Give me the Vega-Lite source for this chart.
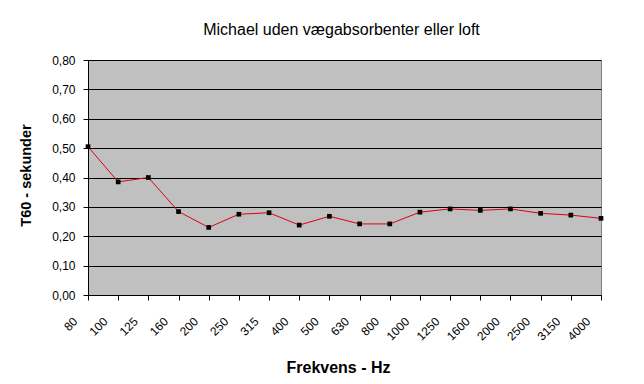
{
  "$schema": "https://vega.github.io/schema/vega-lite/v6.json",
  "autosize": {"type": "none"},
  "padding": {"left": 88, "top": 60, "right": 43, "bottom": 89},
  "width": 513,
  "height": 235,
  "background": "white",
  "title": {
    "text": "Michael uden vægabsorbenter eller loft",
    "font": "Liberation Sans",
    "fontSize": 16,
    "fontWeight": "normal",
    "color": "black",
    "anchor": "middle",
    "dx": -3,
    "offset": 16
  },
  "config": {
    "view": {"fill": "#C0C0C0", "stroke": "#808080", "strokeWidth": 1},
    "axis": {"labelFont": "Liberation Sans", "titleFont": "Liberation Sans", "labelColor": "black", "titleColor": "black", "domainColor": "black", "tickColor": "black"}
  },
  "data": {
    "values": [
      {"f": "80", "t": 0.505},
      {"f": "100", "t": 0.385},
      {"f": "125", "t": 0.40},
      {"f": "160", "t": 0.284},
      {"f": "200", "t": 0.23},
      {"f": "250", "t": 0.275},
      {"f": "315", "t": 0.28},
      {"f": "400", "t": 0.238},
      {"f": "500", "t": 0.268},
      {"f": "630", "t": 0.242},
      {"f": "800", "t": 0.242},
      {"f": "1000", "t": 0.282},
      {"f": "1250", "t": 0.293},
      {"f": "1600", "t": 0.288},
      {"f": "2000", "t": 0.293},
      {"f": "2500", "t": 0.278},
      {"f": "3150", "t": 0.272},
      {"f": "4000", "t": 0.261}
    ]
  },
  "encoding": {
    "x": {
      "field": "f", "type": "ordinal", "sort": null,
      "scale": {"type": "point", "padding": 0},
      "axis": {
        "title": "Frekvens - Hz", "titleFontSize": 16, "titleFontWeight": "bold",
        "titleX": 250, "titleY": 64, "titleAnchor": "middle", "titleAlign": "center",
        "labelAngle": -45, "labelAlign": "right", "labelBaseline": "middle",
        "labelFontSize": 12, "labelPadding": 19, "labelOffset": -13, "tickSize": 5, "grid": false,
        "domainWidth": 1
      }
    },
    "y": {
      "field": "t", "type": "quantitative",
      "scale": {"domain": [0, 0.8], "nice": false},
      "axis": {
        "title": "T60 - sekunder", "titleFontSize": 14.5, "titleFontWeight": "bold",
        "titleX": -55, "titleY": 115, "titleAnchor": "middle",
        "values": [0, 0.1, 0.2, 0.3, 0.4, 0.5, 0.6, 0.7, 0.8],
        "labelExpr": "replace(format(datum.value, '.2f'), '.', ',')",
        "labelFontSize": 12, "labelPadding": 8, "tickSize": 5,
        "grid": true, "gridColor": "black", "gridOpacity": 1, "gridWidth": 1
      }
    }
  },
  "layer": [
    {"mark": {"type": "line", "color": "#E00010", "strokeWidth": 1}},
    {"mark": {"type": "point", "shape": "square", "filled": true, "color": "black", "opacity": 1, "size": 22}}
  ]
}
